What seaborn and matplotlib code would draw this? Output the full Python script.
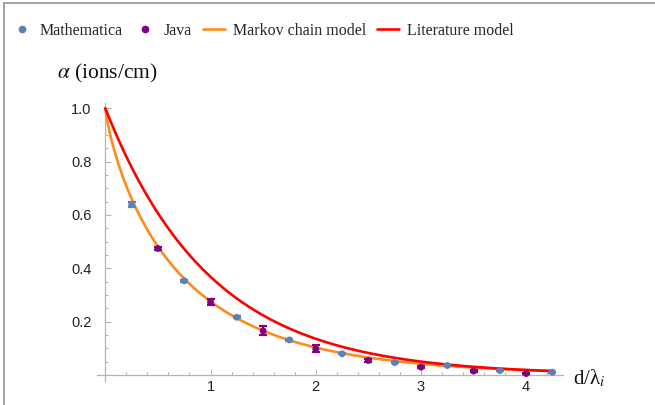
import numpy as np
import pandas as pd
import matplotlib
matplotlib.use("Agg")
import matplotlib.pyplot as plt
from matplotlib.lines import Line2D
from matplotlib.ticker import MultipleLocator, FixedLocator
import seaborn as sns

# Simulated ionisation coefficient (normalised) vs. gap distance d/lambda_i
math_d = [0.25, 0.75, 1.25, 1.75, 2.25, 2.75, 3.25, 3.75, 4.25]
math_alpha = [0.639, 0.353, 0.216, 0.131, 0.079, 0.046, 0.035, 0.016, 0.010]
math_err = [0.009, 0.004, 0.003, 0.003, 0.002, 0.002, 0.002, 0.002, 0.002]

java_d = [0.5, 1.0, 1.5, 2.0, 2.5, 3.0, 3.5, 4.0]
java_alpha = [0.474, 0.273, 0.165, 0.098, 0.054, 0.029, 0.014, 0.005]
java_err = [0.005, 0.010, 0.017, 0.014, 0.004, 0.004, 0.004, 0.003]

# Model parameters
markov_rate = 1.29
markov_shape = 0.82
literature_rate = 1.0
d_max = 4.25

y_ticks = [0.2, 0.4, 0.6, 0.8, 1.0]
x_ticks = [1, 2, 3, 4]

c_math = "#5E81B5"
c_java = "#800080"
c_markov = "#FF8C1A"
c_lit = "#FF0000"

sns.set_theme(style="white")
plt.rcParams["font.family"] = ["Liberation Sans", "DejaVu Sans"]
plt.rcParams["mathtext.fontset"] = "stix"

W, H = 655, 405
fig = plt.figure(figsize=(W / 100, H / 100), dpi=100)
ax = fig.add_axes([97 / W, 1 - 381 / H, (563 - 97) / W, (381 - 103) / H])

d = np.linspace(0, d_max, 400)
curves = pd.DataFrame({
    "d": np.concatenate([d, d]),
    "alpha": np.concatenate([np.exp(-markov_rate * d ** markov_shape),
                             np.exp(-literature_rate * d)]),
    "model": ["Markov chain model"] * len(d) + ["Literature model"] * len(d),
})
sns.lineplot(data=curves, x="d", y="alpha", hue="model",
             palette={"Markov chain model": c_markov, "Literature model": c_lit},
             linewidth=1.9, legend=False, ax=ax, zorder=3)

for xs, ys, es, col in [(math_d, math_alpha, math_err, c_math),
                        (java_d, java_alpha, java_err, c_java)]:
    ax.errorbar(xs, ys, yerr=es, fmt="none", ecolor=col, elinewidth=1.6,
                capsize=3.2, capthick=1.6, zorder=4)
    sns.scatterplot(x=xs, y=ys, color=col, s=24, edgecolor="none", ax=ax, zorder=5)

ax.set_xlim(-0.079, 4.35)
ax.set_ylim(-0.023, 1.02)
ax.set_xlabel("")
ax.set_ylabel("")

for side in ["top", "right"]:
    ax.spines[side].set_visible(False)
for side in ["left", "bottom"]:
    ax.spines[side].set_position(("data", 0))
    ax.spines[side].set_color("#b5b5b5")
    ax.spines[side].set_linewidth(0.9)
ax.spines["left"].set_bounds(-0.023, 1.02)
ax.spines["bottom"].set_bounds(-0.079, 4.35)

ax.xaxis.set_major_locator(FixedLocator(x_ticks))
ax.xaxis.set_minor_locator(MultipleLocator(0.2))
ax.yaxis.set_major_locator(FixedLocator(y_ticks))
ax.yaxis.set_minor_locator(MultipleLocator(0.05))
ax.set_xticklabels([str(t) for t in x_ticks])
ax.set_yticklabels([f"{t:.1f}" for t in y_ticks])
ax.tick_params(which="both", direction="in", color="#b5b5b5", width=0.8,
               bottom=True, left=True)
ax.tick_params(which="major", length=4.5, labelsize=10.5, labelcolor="#222222")
ax.tick_params(which="minor", length=2.5)
ax.tick_params(axis="y", which="major", pad=10)
ax.tick_params(axis="x", which="major", pad=4)
ax.grid(False)

serif = ["Liberation Serif", "DejaVu Serif"]
fig.text(107 / W, 1 - 73 / H, r"$\alpha$ (ions/cm)", ha="center", va="center",
         fontsize=15.5, family=serif, color="#111111")
fig.text(573 / W, 1 - 378 / H, r"d/λ$_{i}$", ha="left", va="center",
         fontsize=15, family=serif, color="#111111")

handles = [
    Line2D([], [], linestyle="none", marker="o", markersize=4.5, color=c_math),
    Line2D([], [], linestyle="none", marker="o", markersize=4.5, color=c_java),
    Line2D([], [], color=c_markov, linewidth=1.9),
    Line2D([], [], color=c_lit, linewidth=1.9),
]
labels = ["Mathematica", "Java", "Markov chain model", "Literature model"]
fig.legend(handles, labels, loc="center", bbox_to_anchor=(262 / W, 1 - 31 / H),
           ncol=4, frameon=False, prop={"family": serif, "size": 11.5},
           handlelength=1.38, handletextpad=0.45, columnspacing=0.72,
           borderaxespad=0, borderpad=0)

# thin frame around the figure
fig.add_artist(Line2D([3.5 / W, 3.5 / W], [0, 1 - 2.5 / H], transform=fig.transFigure,
                      color="#9a9a9a", linewidth=1.3))
fig.add_artist(Line2D([3.5 / W, 1], [1 - 2.5 / H, 1 - 2.5 / H], transform=fig.transFigure,
                      color="#9a9a9a", linewidth=1.3))

fig.savefig("out.png", dpi=100, facecolor="white")
